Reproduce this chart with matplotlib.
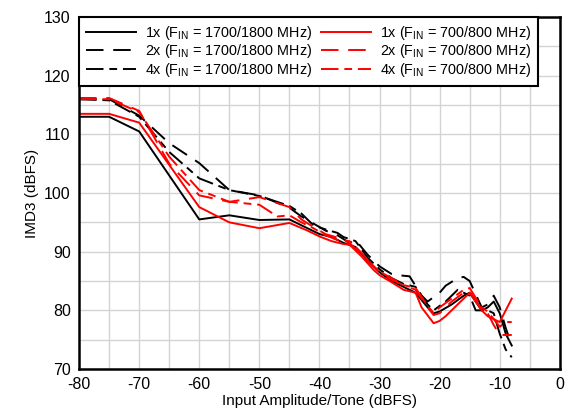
import matplotlib.pyplot as plt
from matplotlib.ticker import MultipleLocator

plt.rcParams['font.family'] = ['Liberation Sans', 'DejaVu Sans']
plt.rcParams['mathtext.fontset'] = 'custom'
plt.rcParams['mathtext.rm'] = 'Liberation Sans'
plt.rcParams['axes.unicode_minus'] = False

# 1x, FIN = 1700/1800 MHz
x_1x_hi = [-80, -75, -70, -60, -55, -50, -45, -42, -40, -38, -36, -34, -32, -30, -28,
           -26, -24, -22, -21, -20, -18, -16, -15, -14, -13, -12, -11, -10, -9, -8]
y_1x_hi = [113, 113, 110.5, 95.5, 96.2, 95.4, 95.5, 94, 93, 92.5, 91.5, 90.8, 88.5, 86.5, 85,
           84, 83, 80.5, 79.5, 79.8, 81, 82.5, 83, 81.5, 80, 80.5, 81.5, 79.5, 76, 74]

# 2x, FIN = 1700/1800 MHz
x_2x_hi = [-80, -75, -70, -65, -60, -55, -50, -45, -43, -41, -39, -37, -35, -34, -32, -30,
           -28, -27, -25, -23, -22, -20, -19, -17, -16, -15, -13, -12, -11, -10, -9, -8]
y_2x_hi = [116, 116, 113.2, 108.5, 105.1, 100.5, 99.6, 97.5, 96, 94.8, 93.6, 92.8, 91.5, 92, 89.5, 87.5,
           86.2, 86, 85.8, 82.5, 81.5, 83, 84.2, 85.5, 85.7, 85, 80.5, 81, 82.5, 80.5, 77, 74]

# 4x, FIN = 1700/1800 MHz
x_4x_hi = [-80, -75, -70, -65, -60, -55, -50, -45, -43, -41, -39, -37, -36, -34, -32, -30,
           -28, -26, -24, -22, -21, -19, -17, -15, -14, -12, -11, -10, -9, -8]
y_4x_hi = [116, 115.8, 113, 107, 102.5, 100.5, 99.5, 97.8, 96.5, 94.5, 93.8, 93.2, 92.5, 91.8, 89, 87,
           85.5, 84.5, 84, 81, 80, 81.5, 83.5, 82.5, 80, 80, 79.5, 76, 73.3, 72]

# 1x, FIN = 700/800 MHz
x_1x_lo = [-80, -75, -70, -60, -55, -50, -45, -42, -40, -38, -36, -35, -33, -31, -30,
           -28, -26, -24, -23, -21, -20, -19, -17, -15, -13, -12, -11, -10, -9, -8]
y_1x_lo = [113.5, 113.5, 112, 97.6, 95, 94, 94.9, 93.6, 92.6, 91.8, 91.3, 91.2, 89.2, 86.9, 86,
           84.8, 83.5, 83, 80.5, 77.8, 78.2, 79, 81, 83, 80, 79, 78.5, 78, 80, 82]

# 2x, FIN = 700/800 MHz
x_2x_lo = [-80, -75, -70, -65, -60, -55, -50, -45, -43, -41, -39, -37, -35, -33, -31, -30,
           -28, -26, -24, -22, -21, -20, -18, -16, -15, -13, -12, -11, -10, -9, -8]
y_2x_lo = [116.2, 116.2, 114, 105, 99.6, 98.5, 99.3, 97.6, 95.5, 94.2, 93, 92.4, 91.5, 89.5, 87.5, 86.5,
           85.2, 84.3, 83.5, 80.5, 79.2, 79.5, 81.5, 83, 83.2, 80.2, 79.5, 77.5, 75.8, 75.8, 75.8]

# 4x, FIN = 700/800 MHz
x_4x_lo = [-80, -75, -70, -65, -60, -55, -50, -47, -45, -43, -41, -39, -37, -35, -33, -31, -30,
           -28, -26, -24, -22, -21, -20, -18, -16, -15, -13, -12, -11, -10, -9, -8]
y_4x_lo = [116, 116, 113.8, 106.2, 100.5, 98.5, 98, 96, 96.2, 95, 94, 92.8, 92, 91.8, 89.8, 87.5, 86.6,
           85.5, 84.3, 83.8, 80.8, 79.5, 80.5, 82, 83.5, 83.8, 80.5, 79.8, 78.5, 77.2, 78, 78]

series = [
    (x_1x_hi, y_1x_hi, 'black', '-', r'1x (F$_{\mathrm{IN}}$ = 1700/1800 MHz)'),
    (x_2x_hi, y_2x_hi, 'black', (0, (9, 5)), r'2x (F$_{\mathrm{IN}}$ = 1700/1800 MHz)'),
    (x_4x_hi, y_4x_hi, 'black', (0, (9, 3, 4, 3)), r'4x (F$_{\mathrm{IN}}$ = 1700/1800 MHz)'),
    (x_1x_lo, y_1x_lo, '#ff0000', '-', r'1x (F$_{\mathrm{IN}}$ = 700/800 MHz)'),
    (x_2x_lo, y_2x_lo, '#ff0000', (0, (9, 5)), r'2x (F$_{\mathrm{IN}}$ = 700/800 MHz)'),
    (x_4x_lo, y_4x_lo, '#ff0000', (0, (9, 3, 4, 3)), r'4x (F$_{\mathrm{IN}}$ = 700/800 MHz)'),
]

fig = plt.figure(figsize=(5.73, 4.16), dpi=100)
ax = fig.add_axes([0.138, 0.113, 0.839, 0.846])

for xs, ys, c, ls, lab in series:
    ax.plot(xs, ys, color=c, linestyle=ls, linewidth=1.4, label=lab)

ax.set_xlim(-80, 0)
ax.set_ylim(70, 130)
ax.xaxis.set_major_locator(MultipleLocator(10))
ax.xaxis.set_minor_locator(MultipleLocator(5))
ax.yaxis.set_major_locator(MultipleLocator(10))
ax.yaxis.set_minor_locator(MultipleLocator(5))
ax.grid(True, which='both', color='#d3d3d3', linewidth=1)
ax.set_axisbelow(True)
ax.tick_params(which='both', length=0, labelsize=11.5, pad=6)
for s in ax.spines.values():
    s.set_linewidth(1.8)

ax.set_xlabel('Input Amplitude/Tone (dBFS)', fontsize=11, labelpad=1)
ax.set_ylabel('IMD3 (dBFS)', fontsize=11, labelpad=4)

leg = ax.legend(ncol=2, loc='upper left', bbox_to_anchor=(0, 1), fontsize=10.4,
                frameon=True, fancybox=False, edgecolor='black', framealpha=1,
                handlelength=3.5, handletextpad=0.6, columnspacing=0.6,
                labelspacing=0.05, borderpad=0.45, borderaxespad=0)
leg.get_frame().set_linewidth(1.5)

fig.savefig('out.png', dpi=100)
